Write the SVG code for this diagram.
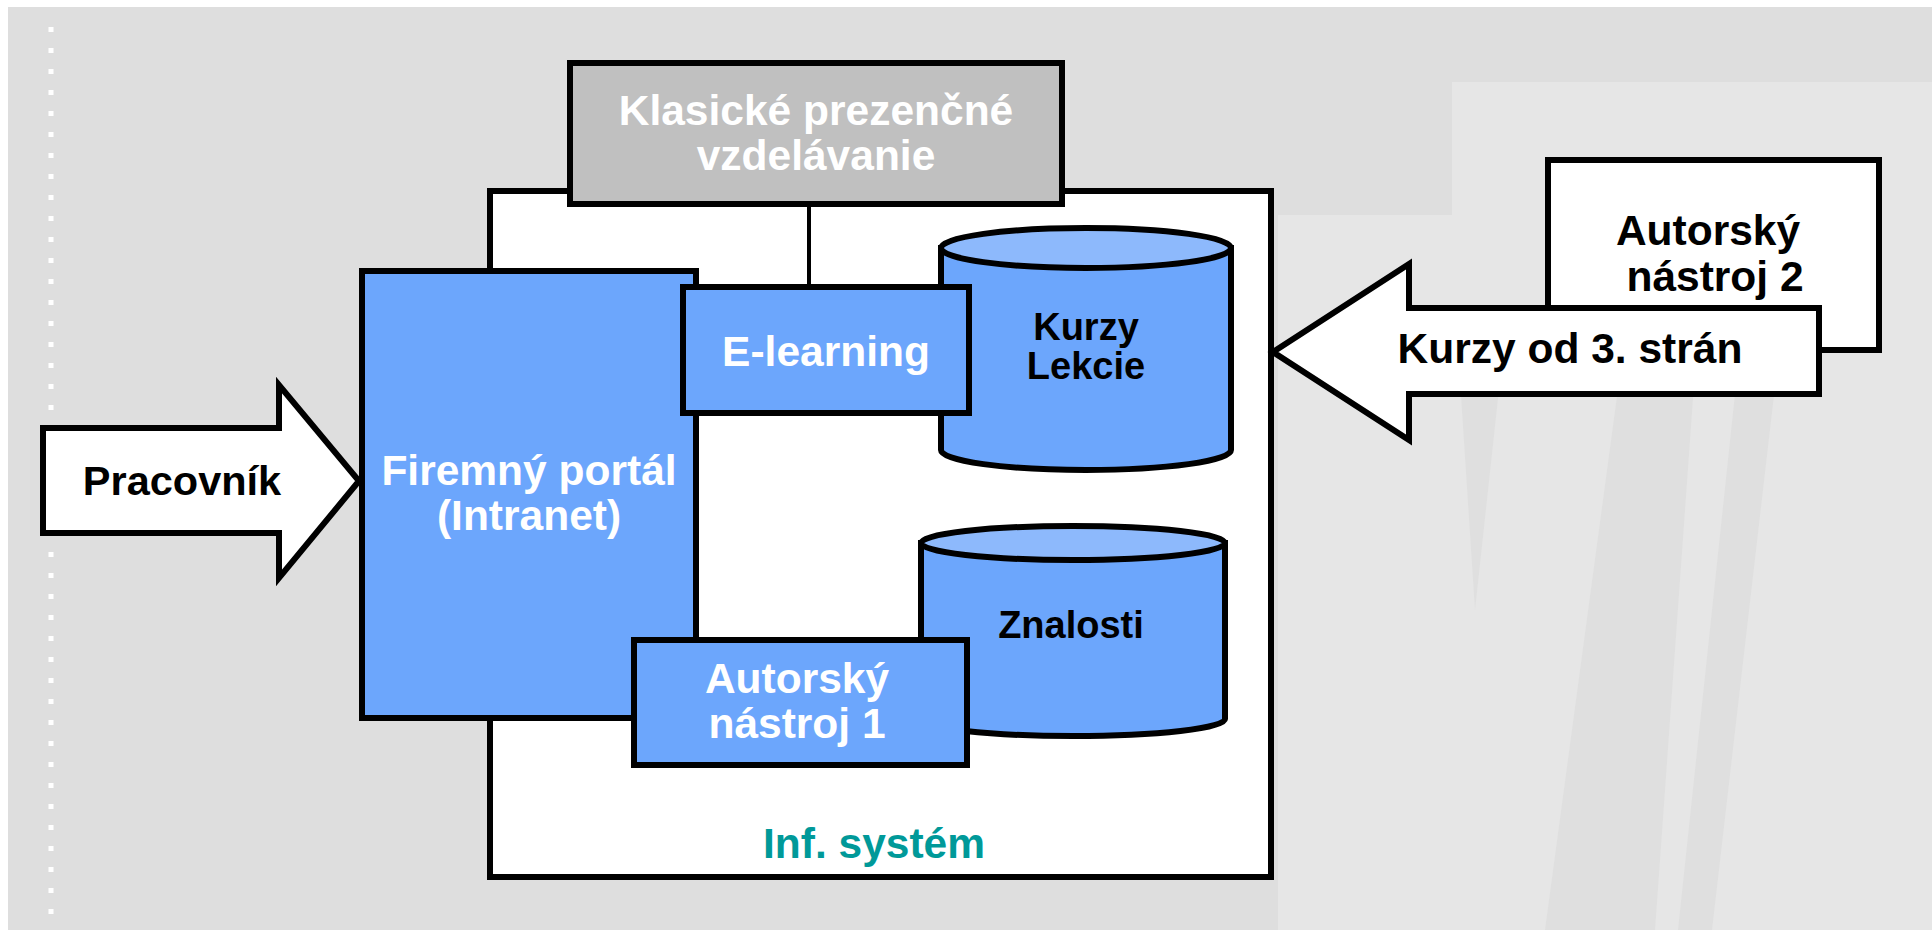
<svg xmlns="http://www.w3.org/2000/svg" width="1932" height="930" viewBox="0 0 1932 930">
<style>
.box{stroke:#000;stroke-width:6}
.blue{fill:#6CA6FC}
.top{fill:#8DB9FC}
.t{font-family:"Liberation Sans",Arial,sans-serif;font-weight:bold;text-anchor:middle}
.w{fill:#fff}
.k{fill:#000}
.big{font-size:42.5px}
.small{font-size:38px}
.band{fill:#DFDFDF}
</style>
<g id="background">
<rect x="0" y="0" width="1932" height="930" fill="#fff"/>
<rect x="8" y="7" width="1924" height="923" fill="#DEDEDE"/>
<polygon points="1452,82 1932,82 1932,930 1278,930 1278,215 1452,215" fill="#E6E6E6"/>
<polygon class="band" points="1460,380 1500,380 1475,610"/>
<polygon class="band" points="1630,300 1700,300 1655,930 1545,930"/>
<polygon class="band" points="1745,300 1785,300 1712,930 1678,930"/>
<line x1="51" y1="27" x2="51" y2="930" stroke="#fff" stroke-width="5" stroke-dasharray="5 16"/>
</g>
<g id="inf-system">
<rect class="box" x="490" y="191" width="781" height="686" fill="#fff"/>
<text class="t big" x="874" y="858" fill="#009999">Inf. systém</text>
</g>
<g id="connectors">
<line x1="809" y1="204" x2="809" y2="287" stroke="#000" stroke-width="4"/>
</g>
<g id="klasicke">
<rect class="box" x="570" y="63" width="492" height="141" fill="#C0C0C0"/>
<text class="t big w" x="816" y="125">Klasické prezenčné</text>
<text class="t big w" x="816" y="170">vzdelávanie</text>
</g>
<g id="kurzy-lekcie">
<path class="box blue" d="M941,248 L941,450 A145,20 0 0 0 1231,450 L1231,248 Z"/>
<ellipse class="box top" cx="1086" cy="248" rx="145" ry="20"/>
<text class="t small k" x="1086" y="340">Kurzy</text>
<text class="t small k" x="1086" y="379">Lekcie</text>
</g>
<g id="znalosti">
<path class="box blue" d="M921,543 L921,719 A152,17 0 0 0 1225,719 L1225,543 Z"/>
<ellipse class="box top" cx="1073" cy="543" rx="152" ry="17"/>
<text class="t small k" x="1071" y="638">Znalosti</text>
</g>
<g id="firemny-portal">
<rect class="box blue" x="362" y="271" width="334" height="447"/>
<text class="t big w" x="529" y="485">Firemný portál</text>
<text class="t big w" x="529" y="530">(Intranet)</text>
</g>
<g id="e-learning">
<rect class="box blue" x="683" y="287" width="286" height="126"/>
<text class="t big w" x="826" y="366">E-learning</text>
</g>
<g id="autorsky-1">
<rect class="box blue" x="634" y="640" width="333" height="125"/>
<text class="t big w" x="797" y="693">Autorský</text>
<text class="t big w" x="797" y="738">nástroj 1</text>
</g>
<g id="pracovnik">
<polygon class="box" points="43,428 279,428 279,385 359,481 279,578 279,533 43,533" fill="#fff"/>
<text class="t k" style="font-size:41.5px" x="182" y="495">Pracovník</text>
</g>
<g id="autorsky-2">
<rect class="box" x="1548" y="160" width="331" height="190" fill="#fff"/>
<text class="t big k" x="1708" y="245">Autorský</text>
<text class="t big k" x="1715" y="291">nástroj 2</text>
</g>
<g id="kurzy-od-3-stran">
<polygon class="box" points="1273,352 1409,264 1409,308 1819,308 1819,394 1409,394 1409,440" fill="#fff"/>
<text class="t big k" x="1570" y="363">Kurzy od 3. strán</text>
</g>
</svg>
